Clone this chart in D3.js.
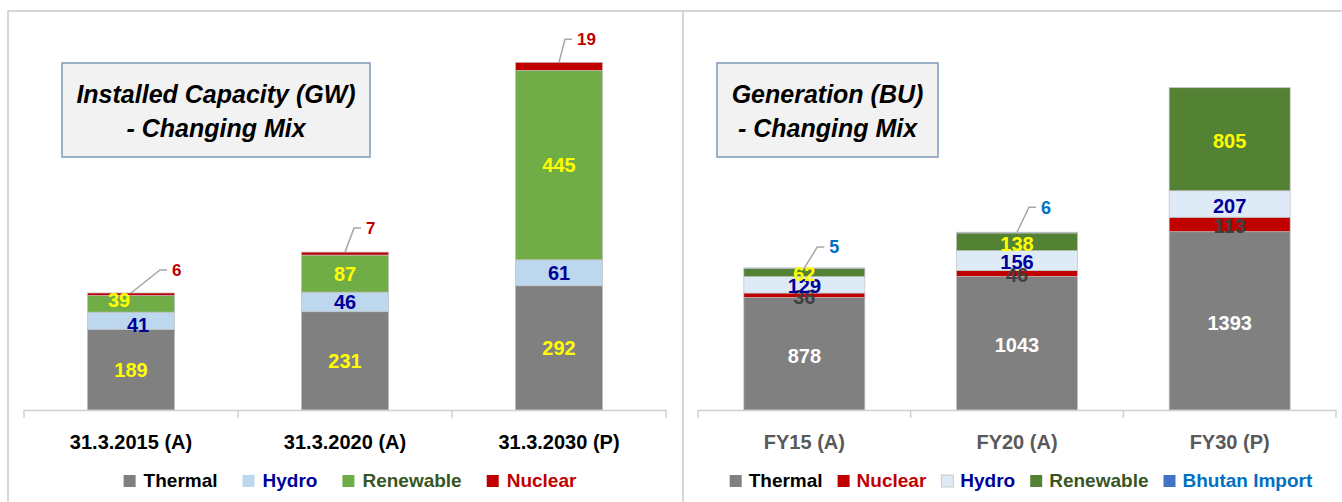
<!DOCTYPE html>
<html><head><meta charset="utf-8">
<script src="https://cdn.jsdelivr.net/npm/d3@7"></script>
<style>html,body{margin:0;padding:0;background:#fff;} svg{display:block;font-family:"Liberation Sans",Arial,sans-serif;}</style>
</head><body><svg id="c" width="1342" height="502"></svg>
<script>
// ---------- DATA ----------
const capCategories = ["31.3.2015 (A)", "31.3.2020 (A)", "31.3.2030 (P)"];
const capThermal   = [189, 231, 292];
const capHydro     = [41, 46, 61];
const capRenewable = [39, 87, 445];
const capNuclear   = [6, 7, 19];
const capDomain    = [0, 900];

const genCategories = ["FY15 (A)", "FY20 (A)", "FY30 (P)"];
const genThermal   = [878, 1043, 1393];
const genNuclear   = [36, 46, 113];
const genHydro     = [129, 156, 207];
const genRenewable = [62, 138, 805];
const genBhutan    = [5, 6, 0];
const genDomain    = [0, 3000];

const capTitle = ["Installed Capacity (GW)", "- Changing Mix"];
const genTitle = ["Generation (BU)", "- Changing Mix"];

// ---------- LAYOUT ----------
const svg = d3.select("#c");
svg.append("path").attr("d", "M8,502 V11 H1342 M683,11 V502")
  .attr("fill", "none").attr("stroke", "#c9c9c9").attr("stroke-width", 1.5);

function drawPanel(cfg) {
  const x = d3.scaleBand().domain(cfg.categories).range(cfg.xRange)
    .paddingInner(cfg.pad).paddingOuter(cfg.pad / 2);
  const y = d3.scaleLinear().domain(cfg.domain).range([410, cfg.yTop]);
  const g = svg.append("g");

  // title box
  g.append("rect").attr("x", cfg.box[0]).attr("y", cfg.box[1]).attr("width", cfg.box[2]).attr("height", cfg.box[3])
    .attr("fill", "#f2f2f2").attr("stroke", "#7e98b9").attr("stroke-width", 1.5);
  cfg.title.forEach((t, i) => {
    g.append("text").attr("x", cfg.box[0] + cfg.box[2] / 2).attr("y", cfg.box[1] + 40 + i * 34)
      .attr("text-anchor", "middle").attr("font-size", 25).attr("font-weight", "bold")
      .attr("font-style", "italic").attr("fill", "#000").text(t);
  });

  const keys = cfg.series.map(s => s.name);
  const rows = cfg.categories.map((c, i) => {
    const r = { cat: c };
    cfg.series.forEach(s => r[s.name] = s.values[i] || 0);
    return r;
  });
  const stacked = d3.stack().keys(keys)(rows);

  // bars
  stacked.forEach((layer, li) => {
    const s = cfg.series[li];
    g.selectAll(null).data(layer.filter(d => d[1] - d[0] > 0)).join("rect")
      .attr("x", d => x(d.data.cat)).attr("width", x.bandwidth())
      .attr("y", d => y(d[1])).attr("height", d => y(d[0]) - y(d[1]))
      .attr("fill", s.fill).attr("stroke", "#c0c0c0").attr("stroke-width", 0.7);
  });

  // axis
  const step = x.step();
  const x0 = cfg.xRange[0];
  g.append("line").attr("x1", cfg.xRange[0]).attr("x2", cfg.xRange[1]).attr("y1", 410.5).attr("y2", 410.5)
    .attr("stroke", "#d0d0d0").attr("stroke-width", 1.5);
  d3.range(cfg.categories.length + 1).forEach(i => {
    g.append("line").attr("x1", x0 + i * step).attr("x2", x0 + i * step).attr("y1", 410).attr("y2", 418)
      .attr("stroke", "#d0d0d0").attr("stroke-width", 1.5);
  });
  g.selectAll(null).data(cfg.categories).join("text")
    .attr("x", d => x(d) + x.bandwidth() / 2).attr("y", 449)
    .attr("text-anchor", "middle").attr("font-size", 20).attr("font-weight", "bold")
    .attr("fill", cfg.axisColor).text(d => d);

  // inside labels
  stacked.forEach((layer, li) => {
    const s = cfg.series[li];
    if (s.callout) return;
    layer.forEach((d, i) => {
      const v = d[1] - d[0];
      if (!(v > 0)) return;
      const nudge = (s.nudge && s.nudge[i]) || [0, 0];
      g.append("text")
        .attr("x", x(d.data.cat) + x.bandwidth() / 2 + nudge[0])
        .attr("y", (y(d[0]) + y(d[1])) / 2 + nudge[1] + cfg.labelDy)
        .attr("dy", "0.36em").attr("text-anchor", "middle")
        .attr("font-size", 20).attr("font-weight", "bold").attr("fill", s.labelColor)
        .text(s.values[i]);
    });
  });

  // callout labels (top series)
  stacked.forEach((layer, li) => {
    const s = cfg.series[li];
    if (!s.callout) return;
    layer.forEach((d, i) => {
      if (!(s.values[i] > 0)) return;
      const cx = x(d.data.cat) + x.bandwidth() / 2;
      const top = y(d[1]);
      const off = s.callout[i];
      const ex = cx + off[0], ey = top + off[1];
      g.append("path").attr("d", `M${cx},${top} L${ex},${ey} H${ex + 7}`)
        .attr("fill", "none").attr("stroke", "#a6a6a6").attr("stroke-width", 1.5);
      g.append("text").attr("x", ex + 12).attr("y", ey).attr("dy", "0.36em")
        .attr("font-size", s.calloutSize).attr("font-weight", "bold").attr("fill", s.labelColor)
        .text(s.values[i]);
    });
  });

  // legend
  const lg = g.append("g");
  let cursor = 0;
  cfg.series.forEach(s => {
    const it = lg.append("g");
    it.append("rect").attr("x", 0).attr("y", -12).attr("width", 12).attr("height", 12)
      .attr("fill", s.legendFill || s.fill).attr("stroke", s.legendStroke || "none").attr("stroke-width", 0.8);
    const t = it.append("text").attr("x", 12 + cfg.legendGapIn).attr("y", 0)
      .attr("font-size", 19).attr("font-weight", "bold").attr("fill", s.legendColor).text(s.name);
    const w = 12 + cfg.legendGapIn + t.node().getComputedTextLength();
    it.attr("transform", `translate(${cursor},0)`);
    cursor += w + cfg.legendGap;
  });
  const total = cursor - cfg.legendGap;
  lg.attr("transform", `translate(${cfg.legendCenter - total / 2},487)`);
}

drawPanel({
  categories: capCategories, domain: capDomain, xRange: [24, 666], pad: 0.593, yTop: 27,
  box: [62, 63, 308, 94], title: capTitle, axisColor: "#000", labelDy: 0,
  legendCenter: 350, legendGap: 25, legendGapIn: 8,
  series: [
    { name: "Thermal", values: capThermal, fill: "#808080", labelColor: "#ffff00", legendColor: "#000" },
    { name: "Hydro", values: capHydro, fill: "#bdd7ee", labelColor: "#000099", legendColor: "#000099",
      nudge: [[7, 4], [0, 0], [0, 0]] },
    { name: "Renewable", values: capRenewable, fill: "#70ad47", labelColor: "#ffff00", legendColor: "#375623",
      nudge: [[-12, -4], [0, 0], [0, 0]] },
    { name: "Nuclear", values: capNuclear, fill: "#c00000", labelColor: "#c00000", legendColor: "#c00000",
      callout: [[29, -23], [9, -24], [6, -23]], calloutSize: 17 }
  ]
});

drawPanel({
  categories: genCategories, domain: genDomain, xRange: [698, 1336], pad: 0.431, yTop: 26,
  box: [717, 63, 221, 94], title: genTitle, axisColor: "#595959", labelDy: 1.5,
  legendCenter: 1021, legendGap: 15, legendGapIn: 7,
  series: [
    { name: "Thermal", values: genThermal, fill: "#808080", labelColor: "#ffffff", legendColor: "#000" },
    { name: "Nuclear", values: genNuclear, fill: "#c00000", labelColor: "#404040", legendColor: "#c00000" },
    { name: "Hydro", values: genHydro, fill: "#deebf7", labelColor: "#000099", legendColor: "#000099",
      legendStroke: "#bfbfbf" },
    { name: "Renewable", values: genRenewable, fill: "#548235", labelColor: "#ffff00", legendColor: "#375623" },
    { name: "Bhutan Import", values: genBhutan, fill: "#4472c4", labelColor: "#0070c0", legendColor: "#0070c0",
      callout: [[13, -21], [12, -25], [12, -25]], calloutSize: 18 }
  ]
});
</script></body></html>
